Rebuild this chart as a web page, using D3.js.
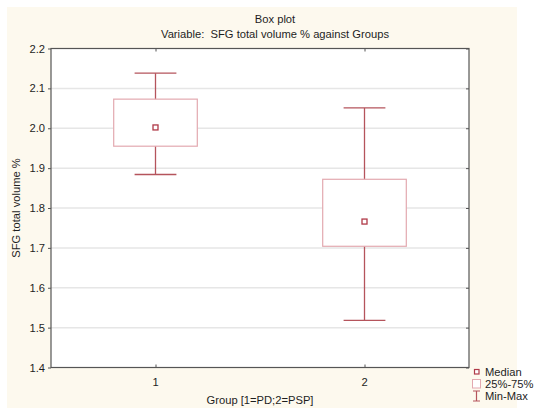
<!DOCTYPE html>
<html>
<head>
<meta charset="utf-8">
<script src="https://cdn.jsdelivr.net/npm/d3@7"></script>
<style>
  body { margin: 0; background: #fff; }
  text { font-family: "Liberation Sans", Arial, sans-serif; fill: #1e1e1e; }
</style>
</head>
<body>
<div id="chart"></div>
<script>
const groups = [1, 2];
const mins = [1.884, 1.518];
const q1s = [1.955, 1.704];
const medians = [2.002, 1.766];
const q3s = [2.073, 1.872];
const maxs = [2.138, 2.051];
const yTicks = [1.4, 1.5, 1.6, 1.7, 1.8, 1.9, 2.0, 2.1, 2.2];

const width = 550, height = 413;
const plot = { left: 51, right: 469, top: 48.5, bottom: 367.5 };
const whiskerColor = "#b5545c";
const boxColor = "#e3a9b0";
const fs = "11.2px";

const svg = d3.select("#chart").append("svg")
  .attr("width", width)
  .attr("height", height);

svg.append("rect").attr("width", width).attr("height", height).attr("fill", "#fff");
svg.append("rect")
  .attr("x", 7).attr("y", 7)
  .attr("width", 510).attr("height", 401)
  .attr("fill", "#fdf9ee");

const x = d3.scaleLinear().domain([0.5, 2.5]).range([plot.left, plot.right]);
const y = d3.scaleLinear().domain([1.4, 2.2]).range([plot.bottom, plot.top]);

svg.append("rect")
  .attr("x", plot.left).attr("y", plot.top)
  .attr("width", plot.right - plot.left)
  .attr("height", plot.bottom - plot.top)
  .attr("fill", "#fff");

// gridlines
svg.append("g")
  .selectAll("line")
  .data(yTicks.slice(1, -1))
  .join("line")
  .attr("x1", plot.left).attr("x2", plot.right)
  .attr("y1", d => y(d)).attr("y2", d => y(d))
  .attr("stroke", "#e6e6e6")
  .attr("stroke-width", 1.5);

// axes
const fmt = d3.format(".1f");
const axLeft = svg.append("g")
  .attr("transform", `translate(${plot.left},0)`)
  .call(d3.axisLeft(y).tickValues(yTicks).tickFormat(fmt).tickSize(3).tickPadding(3));
const axRight = svg.append("g")
  .attr("transform", `translate(${plot.right},0)`)
  .call(d3.axisLeft(y).tickValues(yTicks).tickFormat("").tickSize(3));
const axBottom = svg.append("g")
  .attr("transform", `translate(0,${plot.bottom})`)
  .call(d3.axisTop(x).tickValues(groups).tickFormat("").tickSize(3));
const axTop = svg.append("g")
  .attr("transform", `translate(0,${plot.top})`)
  .call(d3.axisBottom(x).tickValues(groups).tickFormat("").tickSize(3));
[axLeft, axRight, axBottom, axTop].forEach(a => {
  a.select(".domain").remove();
  a.selectAll(".tick line").attr("stroke", "#555");
});
axLeft.selectAll(".tick text")
  .attr("font-size", fs)
  .attr("font-family", "Liberation Sans, Arial, sans-serif")
  .attr("fill", "#1e1e1e");

svg.append("g")
  .selectAll("text")
  .data(groups)
  .join("text")
  .attr("x", d => x(d))
  .attr("y", 385.5)
  .attr("text-anchor", "middle")
  .attr("font-size", fs)
  .text(d => d);

svg.append("rect")
  .attr("x", plot.left).attr("y", plot.top)
  .attr("width", plot.right - plot.left)
  .attr("height", plot.bottom - plot.top)
  .attr("fill", "none")
  .attr("stroke", "#555")
  .attr("stroke-width", 1.2);

// boxes
const boxW = x(0.2) - x(0);
const capW = x(0.1) - x(0);
const idx = d3.range(groups.length);

const g = svg.append("g");
g.selectAll(".whisker")
  .data(idx)
  .join("line")
  .attr("x1", i => x(groups[i])).attr("x2", i => x(groups[i]))
  .attr("y1", i => y(mins[i])).attr("y2", i => y(maxs[i]))
  .attr("stroke", whiskerColor).attr("stroke-width", 1.3);
g.selectAll(".box")
  .data(idx)
  .join("rect")
  .attr("x", i => x(groups[i]) - boxW)
  .attr("y", i => y(q3s[i]))
  .attr("width", boxW * 2)
  .attr("height", i => y(q1s[i]) - y(q3s[i]))
  .attr("fill", "#fff")
  .attr("stroke", boxColor).attr("stroke-width", 1.2);
[mins, maxs].forEach(arr => {
  g.append("g").selectAll("line")
    .data(idx)
    .join("line")
    .attr("x1", i => x(groups[i]) - capW).attr("x2", i => x(groups[i]) + capW)
    .attr("y1", i => y(arr[i])).attr("y2", i => y(arr[i]))
    .attr("stroke", whiskerColor).attr("stroke-width", 1.3);
});
g.selectAll(".median")
  .data(idx)
  .join("rect")
  .attr("x", i => x(groups[i]) - 2.5)
  .attr("y", i => y(medians[i]) - 2.5)
  .attr("width", 5).attr("height", 5)
  .attr("fill", "#fff")
  .attr("stroke", "#b03a48").attr("stroke-width", 1.3);

// titles
svg.append("text").attr("x", 275).attr("y", 23)
  .attr("text-anchor", "middle").attr("font-size", fs).text("Box plot");
svg.append("text").attr("x", 275).attr("y", 38)
  .attr("text-anchor", "middle").attr("font-size", fs)
  .attr("xml:space", "preserve")
  .text("Variable:  SFG total volume % against Groups");
svg.append("text").attr("x", 260).attr("y", 403.5)
  .attr("text-anchor", "middle").attr("font-size", fs).text("Group [1=PD;2=PSP]");
svg.append("text")
  .attr("transform", `translate(20,${(plot.top + plot.bottom) / 2}) rotate(-90)`)
  .attr("text-anchor", "middle").attr("font-size", fs).text("SFG total volume %");

// legend
const lg = svg.append("g");
lg.append("rect").attr("x", 474.5).attr("y", 369.5).attr("width", 4.5).attr("height", 4.5)
  .attr("fill", "#fff").attr("stroke", "#b03a48").attr("stroke-width", 1.2);
lg.append("rect").attr("x", 472.5).attr("y", 379.5).attr("width", 8).attr("height", 8.5)
  .attr("fill", "#fff").attr("stroke", boxColor).attr("stroke-width", 1);
lg.append("path").attr("d", "M473,391H480M476.5,391V401M473,401H480")
  .attr("fill", "none").attr("stroke", whiskerColor).attr("stroke-width", 1.2);
const legendLabels = ["Median", "25%-75%", "Min-Max"];
lg.selectAll("text")
  .data(legendLabels)
  .join("text")
  .attr("x", 485)
  .attr("y", (d, i) => 375.5 + i * 12.3)
  .attr("font-size", fs)
  .text(d => d);
</script>
</body>
</html>
